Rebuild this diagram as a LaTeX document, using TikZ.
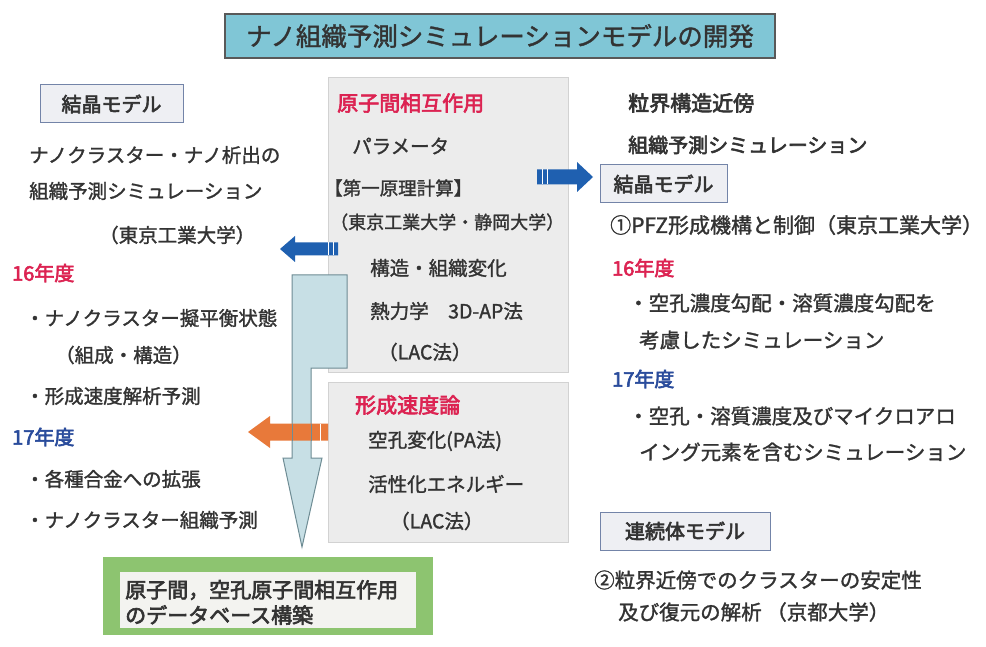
\documentclass[tikz,border=0pt]{standalone}
\usepackage{fontspec}
\setmainfont{Noto Sans CJK JP}
\newfontfamily\jpmed{Noto Sans CJK JP}[FakeBold=1.4]
\newfontfamily\jpbold{Noto Sans CJK JP}[FakeBold=3]
\definecolor{tgray}{HTML}{333333}
\definecolor{tred}{HTML}{DC2352}
\definecolor{tblue}{HTML}{2A4C9C}
\definecolor{titlefill}{HTML}{80C6D6}
\definecolor{lblfill}{HTML}{EEEFF3}
\definecolor{lbldraw}{HTML}{7384A8}
\definecolor{boxfill}{HTML}{ECECEC}
\definecolor{boxdraw}{HTML}{D2D2D2}
\definecolor{arrfill}{HTML}{C7DFE5}
\definecolor{arrdraw}{HTML}{6E8C94}
\definecolor{barrow}{HTML}{1F60B0}
\definecolor{oarrow}{HTML}{E8793A}
\definecolor{gband}{HTML}{8DC470}
\definecolor{ginner}{HTML}{F3F3F0}
\tikzset{
  txt/.style={anchor=west, inner sep=0pt, text=tgray, font=\jpmed\fontsize{19.5}{23}\selectfont},
  rtxt/.style={txt, font=\jpmed\fontsize{20.5}{24}\selectfont},
  hd/.style={anchor=west, inner sep=0pt, font=\jpbold\fontsize{20}{24}\selectfont},
  lbl/.style={draw=lbldraw, fill=lblfill, line width=1pt, inner sep=0pt, text=tgray, font=\jpbold\fontsize{20}{24}\selectfont},
  cbox/.style={fill=boxfill, draw=boxdraw, line width=0.8pt},
  stripe/.style={draw=white, line width=1pt}
}
\begin{document}
\begin{tikzpicture}[x=1pt, y=-1pt]
\useasboundingbox[fill=white] (0,0) rectangle (986,647);

% title
\node[draw=black!65, fill=titlefill, line width=1.2pt, minimum width=550pt, minimum height=44pt, inner sep=0pt, text=tgray, font=\jpmed\fontsize{25.5}{28}\selectfont] (title) at (500,36) {ナノ組織予測シミュレーションモデルの開発};

% center boxes
\path[cbox] (328,77) rectangle (568,372);
\path[cbox] (328,382) rectangle (568,542);

% big down arrow
\draw[fill=arrfill, draw=arrdraw, line width=1pt] (292,275) -- (347,275) -- (347,368) -- (311,368) -- (311,458) -- (322,458) -- (302,547) -- (283,458) -- (292,458) -- cycle;

% blue left arrow
\fill[barrow] (280,249) -- (295,236) -- (295,242.5) -- (338,242.5) -- (338,255.5) -- (295,255.5) -- (295,262) -- cycle;
\draw[stripe] (328,242.5) -- (328,255.5);
\draw[stripe] (333,242.5) -- (333,255.5);

% blue right arrow
\fill[barrow] (593,177) -- (577,162) -- (577,169.5) -- (537,169.5) -- (537,184.5) -- (577,184.5) -- (577,192) -- cycle;
\draw[stripe] (542,169.5) -- (542,184.5);
\draw[stripe] (547,169.5) -- (547,184.5);

% orange left arrow
\fill[oarrow] (248,432) -- (270,416) -- (270,423.5) -- (328,423.5) -- (328,440.5) -- (270,440.5) -- (270,448) -- cycle;
\draw[stripe] (320,423.5) -- (320,440.5);
\draw[arrdraw, line width=0.8pt] (292,423.5) -- (292,440.5) (311,423.5) -- (311,440.5);

% left column
\node[lbl, minimum width=143pt, minimum height=38pt] (lkm) at (111.5,104) {結晶モデル};
\node[txt] (l1) at (29,155) {ナノクラスター・ナノ析出の};
\node[txt] (l2) at (29,191) {組織予測シミュレーション};
\node[txt] (l3) at (99,235) {（東京工業大学）};
\node[hd, text=tred] (l4) at (12,273) {16年度};
\node[txt] (l5) at (25,318) {・ナノクラスター擬平衡状態};
\node[txt] (l6) at (55,355) {（組成・構造）};
\node[txt] (l7) at (25,396) {・形成速度解析予測};
\node[hd, text=tblue] (l8) at (12,437) {17年度};
\node[txt] (l9) at (25,479) {・各種合金への拡張};
\node[txt] (l10) at (25,520) {・ナノクラスター組織予測};

% center box 1 text
\node[hd, text=tred, font=\jpbold\fontsize{21}{24}\selectfont] (c1) at (337,103) {原子間相互作用};
\node[txt] (c2) at (352,146) {パラメータ};
\node[txt, font=\jpmed\fontsize{18.5}{22}\selectfont] (c3) at (324,188) {【第一原理計算】};
\node[txt, font=\jpmed\fontsize{18}{22}\selectfont] (c4) at (330,222) {（東京工業大学・静岡大学）};
\node[txt] (c5) at (370,268) {構造・組織変化};
\node[txt] (c6) at (370,311) {熱力学　3D-AP法};
\node[txt] (c7) at (378,352) {（LAC法）};

% center box 2 text
\node[hd, text=tred, font=\jpbold\fontsize{21}{24}\selectfont] (d1) at (355,405) {形成速度論};
\node[txt] (d2) at (368,441) {空孔変化(PA法)};
\node[txt] (d3) at (368,484) {活性化エネルギー};
\node[txt] (d4) at (390,521) {（LAC法）};

% right column
\node[rtxt, font=\jpbold\fontsize{21}{24}\selectfont] (r1) at (628,103) {粒界構造近傍};
\node[rtxt, font=\jpbold\fontsize{20}{24}\selectfont] (r2) at (628,145) {組織予測シミュレーション};
\node[lbl, minimum width=127pt, minimum height=38pt] (rkm) at (663.5,184) {結晶モデル};
\node[rtxt, font=\jpmed\fontsize{21}{24}\selectfont] (r3) at (610,225) {①PFZ形成機構と制御（東京工業大学）};
\node[hd, text=tred] (r4) at (612,268) {16年度};
\node[rtxt] (r5) at (628,303) {・空孔濃度勾配・溶質濃度勾配を};
\node[rtxt] (r6) at (639,340) {考慮したシミュレーション};
\node[hd, text=tblue] (r7) at (612,379) {17年度};
\node[rtxt] (r8) at (628,416) {・空孔・溶質濃度及びマイクロアロ};
\node[rtxt] (r9) at (639,452) {イング元素を含むシミュレーション};
\node[lbl, minimum width=170pt, minimum height=38pt] (rcm) at (685,531) {連続体モデル};
\node[rtxt] (r10) at (594,580) {②粒界近傍でのクラスターの安定性};
\node[rtxt] (r11) at (618,612) {及び復元の解析 （京都大学）};

% bottom green box
\fill[gband] (103,557) rectangle (433,635);
\fill[ginner] (120,572) rectangle (416,628);
\node[txt, font=\jpbold\fontsize{21}{24}\selectfont] (g1) at (125,590) {原子間，空孔原子間相互作用};
\node[txt, font=\jpbold\fontsize{21}{24}\selectfont] (g2) at (125,615) {のデータベース構築};
\end{tikzpicture}
\end{document}
